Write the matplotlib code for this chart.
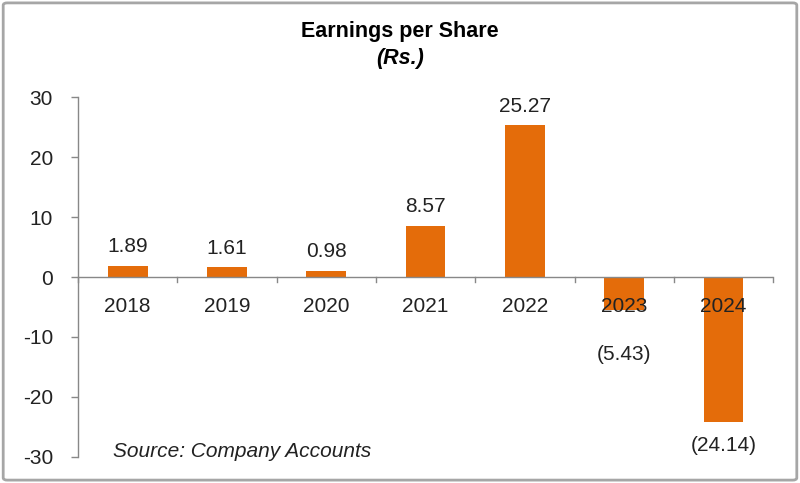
import matplotlib.pyplot as plt
from matplotlib.patches import FancyBboxPatch

plt.rcParams['font.family'] = ['Liberation Sans', 'DejaVu Sans']

# -----------------------
# Datos
# -----------------------
years = ['2018', '2019', '2020', '2021', '2022', '2023', '2024']
eps = [1.89, 1.61, 0.98, 8.57, 25.27, -5.43, -24.14]
yticks = [-30, -20, -10, 0, 10, 20, 30]

BAR_COLOR = '#E46C0A'
TXT = '#222222'
FS = 15

fig = plt.figure(figsize=(8, 4.83), dpi=100)
ax = fig.add_axes([0.0975, 0.054, 0.869, 0.745])

x = list(range(len(years)))
ax.bar(x, eps, width=0.4, color=BAR_COLOR, zorder=2)

ax.set_xlim(-0.5, len(years) - 0.5)
ax.set_ylim(-30, 30)
ax.set_yticks(yticks)
ax.set_yticklabels([str(t) for t in yticks], fontsize=FS, color=TXT)
ax.tick_params(axis='y', length=5, width=1, color='#888888', pad=13)
ax.set_xticks([])

for s in ['top', 'right', 'bottom']:
    ax.spines[s].set_visible(False)
ax.spines['left'].set_color('#888888')
ax.spines['left'].set_linewidth(1)

# eje cero con marcas entre categorias
ax.axhline(0, color='#888888', lw=1, zorder=3)
for b in range(len(years) + 1):
    ax.plot([b - 0.5, b - 0.5], [0, -0.9], color='#888888', lw=1, zorder=3, clip_on=False)

# etiquetas de categoria bajo el eje cero
for i, y in enumerate(years):
    ax.text(i, -5, y, ha='center', va='center', fontsize=FS, color=TXT, zorder=4)

# etiquetas de valores
for i, v in enumerate(eps):
    if v >= 0:
        ax.annotate(f'{v:.2f}', (i, v), xytext=(0, 7), textcoords='offset points',
                    ha='center', va='bottom', fontsize=FS, color=TXT)
    else:
        ypos = min(v - 4, -13)
        ax.text(i, ypos, f'({abs(v):.2f})', ha='center', va='center', fontsize=FS, color=TXT)

fig.text(0.5, 0.934, 'Earnings per Share', ha='center', va='center',
         fontsize=15.5, fontweight='bold', color='black')
fig.text(0.5, 0.878, '(Rs.)', ha='center', va='center',
         fontsize=15.5, fontweight='bold', fontstyle='italic', color='black')
fig.text(0.141, 0.066, 'Source: Company Accounts', ha='left', va='center',
         fontsize=FS, fontstyle='italic', color=TXT)

# marco exterior
frame = FancyBboxPatch((0.004, 0.006), 0.992, 0.988, boxstyle='round,pad=0,rounding_size=0.005',
                       transform=fig.transFigure, fill=False, edgecolor='#A6A6A6', lw=2)
fig.patches.append(frame)

fig.savefig('out.png', dpi=100)
